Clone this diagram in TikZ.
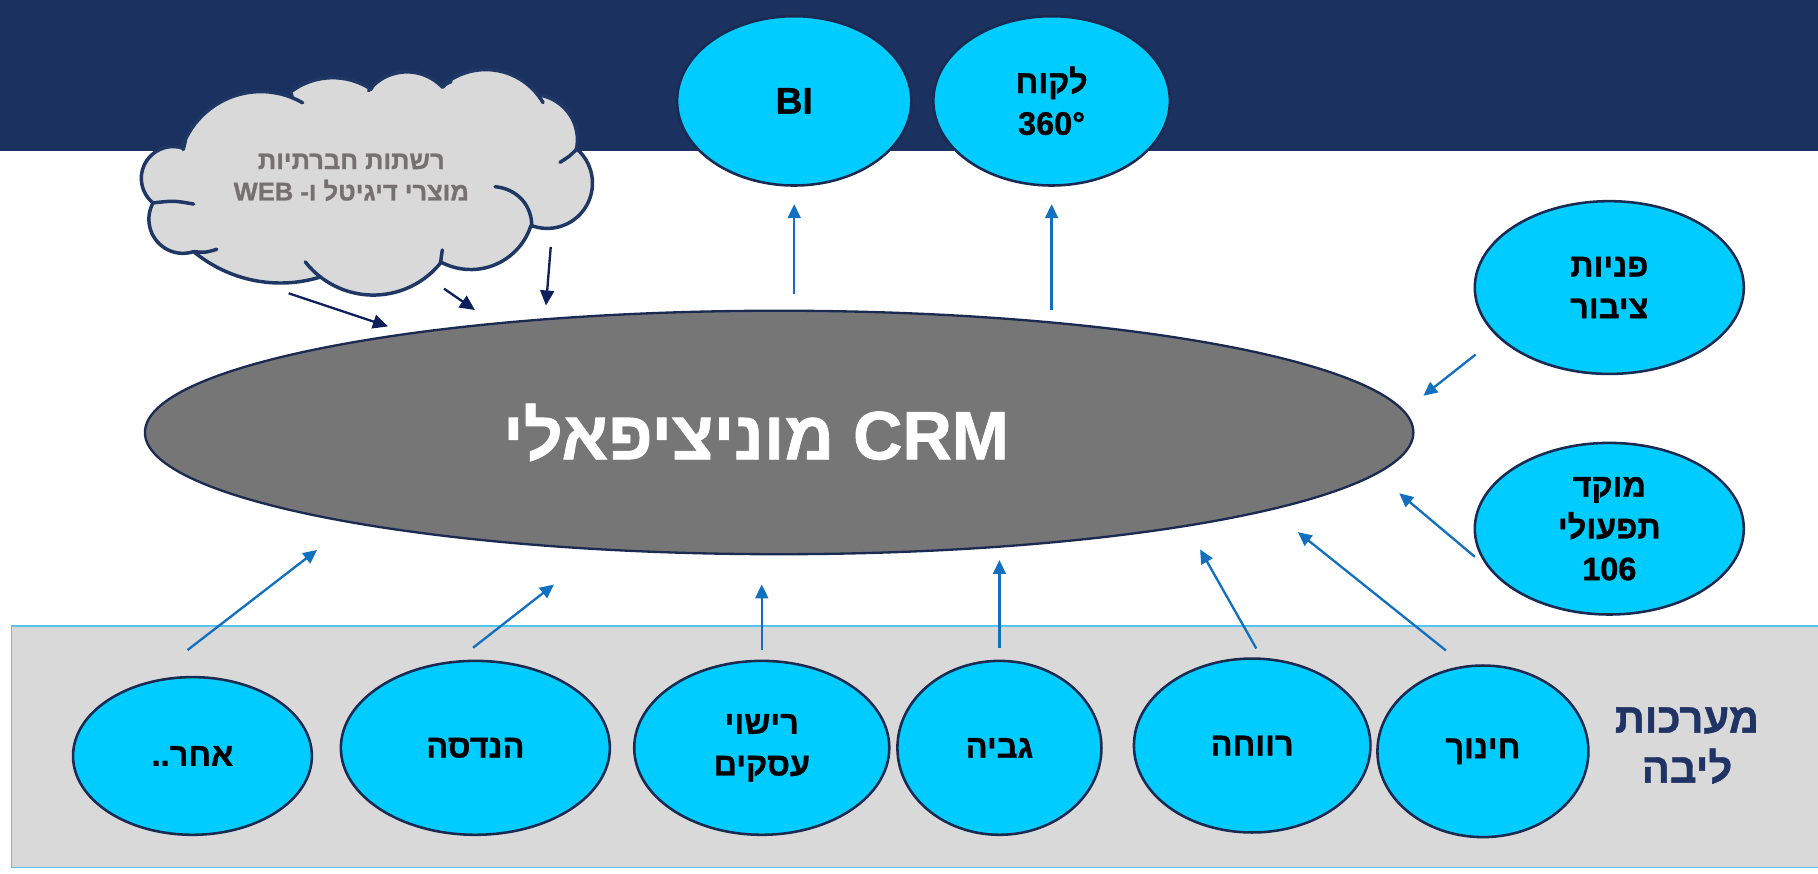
\documentclass[tikz,border=0pt]{standalone}
\usepackage{fontspec}
\setmainfont{Liberation Sans}
\newfontfamily\heb[Script=Hebrew, BoldFeatures={FakeBold=1}]{Liberation Sans}
\TeXXeTstate=1
\usetikzlibrary{shapes.geometric,arrows.meta,calc}
\definecolor{cyanfill}{HTML}{00CCFF}
\definecolor{edgecol}{HTML}{1A2A50}
\definecolor{crmgray}{HTML}{767676}
\definecolor{arrowblue}{HTML}{1170C0}
\definecolor{bandnavy}{HTML}{1B3160}
\definecolor{cloudfill}{HTML}{D9D9D9}
\definecolor{cloudedge}{HTML}{1F3764}
\definecolor{cloudtext}{HTML}{767171}
\definecolor{corefill}{HTML}{D9D9D9}
\definecolor{coreedge}{HTML}{53C4EE}
\definecolor{corelabel}{HTML}{1F3364}
\definecolor{cloudarrow}{HTML}{0D1F5C}
\begin{document}
\begin{tikzpicture}[x=0.5pt,y=-0.5pt,
  blob/.style={ellipse, draw=edgecol, line width=1.1pt, fill=cyanfill, inner sep=0pt,
    align=center, text=black, font=\heb\bfseries\fontsize{14}{18}\selectfont},
  crmbox/.style={ellipse, draw=edgecol, line width=1pt, fill=crmgray, inner sep=0pt,
    text=white, font=\heb\bfseries\fontsize{29.5}{36}\selectfont},
  bluearrow/.style={draw=arrowblue, line width=1pt, -{Triangle[length=6pt,width=5.5pt]}},
  navyarrow/.style={draw=cloudarrow, line width=1pt, -{Triangle[length=6.5pt,width=6pt]}},
  cloudline/.style={draw=cloudedge, line width=1.5pt, line join=round},
  stub/.style={draw=cloudedge, line width=1.5pt, line cap=round},
  cloudlbl/.style={align=center, inner sep=0pt, text=cloudtext,
    font=\heb\bfseries\fontsize{11}{13.5}\selectfont},
  corebox/.style={rectangle, draw=coreedge, line width=0.6pt, fill=corefill, inner sep=0pt},
  corelbl/.style={align=center, text=corelabel, font=\heb\bfseries\fontsize{18}{21.5}\selectfont}
]
\useasboundingbox (0,0) rectangle (1568,753);
\fill[white] (0,0) rectangle (1568,753);
\fill[bandnavy] (0,0) rectangle (1568,130);

% cloud outline (arcs of the puffs, clockwise)
\path[cloudline, fill=cloudfill]
  ($(149.3,153.8)+(129.2:27.4)$) arc[start angle=129.2, end angle=288.6, radius=27.4]
  -- ($(225,151)+(198.9:72)$) arc[start angle=198.9, end angle=292.1, radius=72]
  -- ($(287,127)+(232.9:60)$) arc[start angle=232.9, end angle=303.4, radius=60]
  -- ($(351,104)+(226:42)$) arc[start angle=226, end angle=316.9, radius=42]
  -- ($(419,117)+(228.6:57)$) arc[start angle=228.6, end angle=322.9, radius=57]
  -- ($(459,120.5)+(277.6:39)$) arc[start angle=277.6, end angle=372.6, radius=39]
  -- ($(472,158)+(310.8:39)$) arc[start angle=310.8, end angle=470.7, radius=39]
  -- ($(406,178)+(18.1:54.5)$) arc[start angle=18.1, end angle=118.4, radius=54.5]
  -- ($(322,180)+(38.4:74.5)$) arc[start angle=38.4, end angle=127.9, radius=74.5]
  -- ($(241.9,127.1)+(73.05:117)$) arc[start angle=73.05, end angle=129.8, radius=117]
  -- ($(157.8,189.1)+(71.75:29.4)$) arc[start angle=71.75, end angle=208.7, radius=29.4]
  -- cycle;
% inner strokes of the cloud
\draw[stub] (158,129) .. controls (159,125) .. (160,121);
\draw[stub] ($(225,151)+(292.1:72)$) arc[start angle=292.1, end angle=300, radius=72];
\draw[stub] ($(351,104)+(218:42)$) arc[start angle=218, end angle=226, radius=42];
\draw[stub] (382,75) .. controls (385,72) .. (389,70.5);
\draw[stub] ($(419,117)+(322.9:57)$) arc[start angle=322.9, end angle=330, radius=57];
\draw[stub] (497,129) .. controls (491,135) .. (483,140);
\draw[stub] (427,161) .. controls (447,163) and (459,178) .. (458.6,195.5);
\draw[stub] (380,226) .. controls (381,221) .. (381.5,215.6);
\draw[stub] ($(322,180)+(127.9:74.5)$) arc[start angle=127.9, end angle=142, radius=74.5];
\draw[stub] (167,217) .. controls (177,218) .. (187,215);
\draw[stub] (132,175) .. controls (150,173) .. (167,176);
\node[cloudlbl] (cl) at (303,153)
  {\beginR רשתות חברתיות\endR\\\beginR מוצרי דיגיטל ו- \beginL WEB\endL\endR};

% core systems band
\node[corebox, minimum width=782.5pt, minimum height=104pt] (core) at (792.5,644) {};
\node[corelbl] (corelabel) at (1455,643) {\beginR מערכות\endR\\\beginR ליבה\endR};

% central CRM
\node[crmbox, minimum width=547pt, minimum height=105pt] (crm) at (672,373)
  {\beginR\beginL CRM\endL\ מוניציפאלי\endR\hspace*{20pt}};

% top outputs
\node[blob, minimum width=101pt, minimum height=73pt, font=\heb\bfseries\fontsize{16}{18}\selectfont] (bi) at (685,87) {BI};
\node[blob, minimum width=102pt, minimum height=73pt] (cust) at (907,87) {\beginR לקוח\endR\\360°};

% right inputs
\node[blob, minimum width=116pt, minimum height=74.5pt] (pz) at (1388,248) {\beginR פניות\endR\\\beginR ציבור\endR};
\node[blob, minimum width=116pt, minimum height=74pt] (mk) at (1388,456) {\beginR מוקד\endR\\\beginR תפעולי\endR\\106};

% bottom core systems
\node[blob, minimum width=103pt, minimum height=68pt] (oth) at (166,652) {\beginR אחר..\endR};
\node[blob, minimum width=116pt, minimum height=75pt] (eng) at (410,645) {\beginR הנדסה\endR};
\node[blob, minimum width=110pt, minimum height=75pt] (lic) at (657,645) {\beginR רישוי\endR\\\beginR עסקים\endR};
\node[blob, minimum width=88pt, minimum height=75pt] (gb) at (862,645) {\beginR גביה\endR};
\node[blob, minimum width=102pt, minimum height=75pt] (rw) at (1080,643) {\beginR רווחה\endR};
\node[blob, minimum width=91pt, minimum height=74pt] (hin) at (1279,648) {\beginR חינוך\endR};

% arrows up
\draw[bluearrow, shorten <=6.5pt, shorten >=7.5pt] (bi.south |- crm.north) -- (bi.south);
\draw[bluearrow, shorten >=7.5pt] (cust.south |- crm.north) -- (cust.south);

% right arrows
\draw[bluearrow, shorten <=12pt, shorten >=10.4pt] (pz.204.5) -- (crm.2.7);
\draw[bluearrow, shorten <=7.5pt, shorten >=12.75pt] (mk.198) -- (crm.356);

% bottom arrows
\draw[bluearrow, shorten <=22.5pt, shorten >=18.75pt] (oth.122.4) -- (crm.192.1);
\draw[bluearrow, shorten <=8.9pt, shorten >=24pt] (eng.102.3) -- (crm.213.8);
\draw[bluearrow, shorten <=4pt, shorten >=12.5pt] (lic.north) -- (lic.north |- crm.south);
\draw[bluearrow, shorten <=5pt, shorten >=2pt] (gb.north) -- (gb.north |- crm.south);
\draw[bluearrow, shorten <=4.5pt, shorten >=11.3pt] (rw.84.9) -- (crm.347.8);
\draw[bluearrow, shorten <=10.35pt, shorten >=15pt] (hin.102.4) -- (crm.351.2);

% cloud arrows
\draw[navyarrow, shorten >=8.75pt] ([shift={(-54,100)}]cl.center) -- (crm.165.8);
\draw[navyarrow, shorten >=9.6pt] ([shift={(80,96)}]cl.center) -- (crm.159.3);
\draw[navyarrow, shorten >=5.5pt] ([shift={(172,60)}]cl.center) -- (crm.154.9);
\end{tikzpicture}
\end{document}
